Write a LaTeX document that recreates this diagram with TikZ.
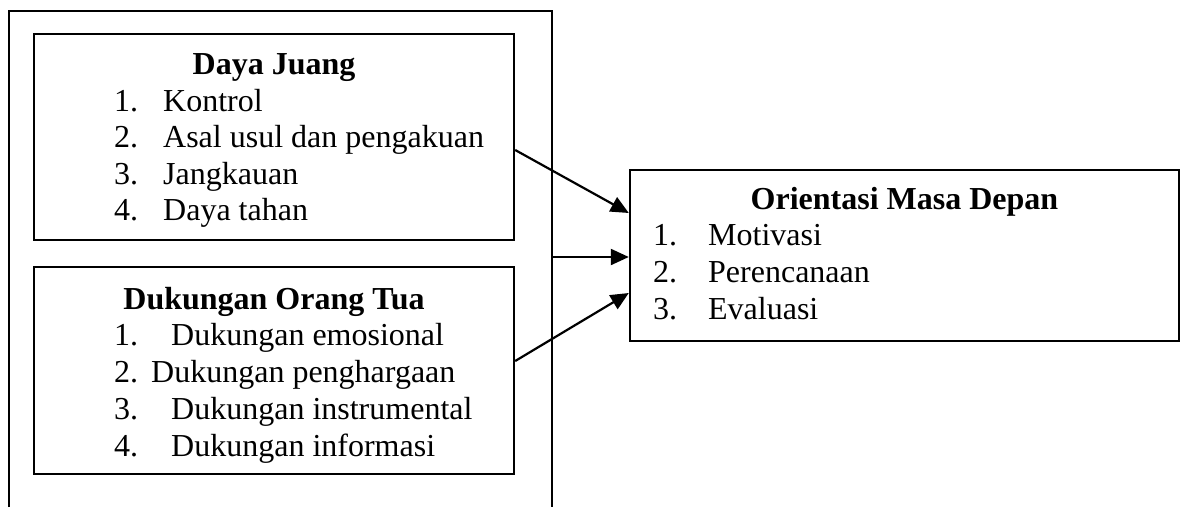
\documentclass[tikz,border=0pt]{standalone}
\usepackage{fontspec}
\setmainfont{Liberation Serif}
\usepackage{tikz}
\usetikzlibrary{arrows.meta}

\begin{document}
\begin{tikzpicture}[x=1pt, y=-1pt, line width=2.4pt,
    font=\fontsize{32}{37}\selectfont,
    box/.style = {draw, rectangle, inner sep=0pt},
    head/.style = {anchor=base, inner sep=0pt, font=\fontsize{32}{37}\selectfont\bfseries},
    item/.style = {anchor=base west, inner sep=0pt},
    arr/.style = {-{Triangle[length=18pt, width=16pt]}, line width=2.2pt}]
                \useasboundingbox (0,0) rectangle (1184,507);
                \draw (9,507) -- (9,11) -- (552,11) -- (552,507);
                \coordinate (frame) at (552,257);
                \node[box, minimum width=480pt, minimum height=206pt] (dj) at (274,137) {};
                \node[box, minimum width=480pt, minimum height=207pt] (dot) at (274,370.5) {};
                \node[box, minimum width=549pt, minimum height=171pt] (omd) at (904.5,255.5) {};
                \node[head] (djhead) at (274,74) {Daya Juang};
                \node[item] (dj1) at (113,111) {\makebox[49pt][l]{1.}Kontrol};
                \node[item] (dj2) at (113,147.5) {\makebox[49pt][l]{2.}Asal usul dan pengakuan};
                \node[item] (dj3) at (113,184) {\makebox[49pt][l]{3.}Jangkauan};
                \node[item] (dj4) at (113,220.5) {\makebox[49pt][l]{4.}Daya tahan};
                \node[head] (dothead) at (274,309) {Dukungan Orang Tua};
                \node[item] (dot1) at (113,345) {\makebox[57pt][l]{1.}Dukungan emosional};
                \node[item] (dot2) at (113,382) {\makebox[37pt][l]{2.}Dukungan penghargaan};
                \node[item] (dot3) at (113,419) {\makebox[57pt][l]{3.}Dukungan instrumental};
                \node[item] (dot4) at (113,456) {\makebox[57pt][l]{4.}Dukungan informasi};
                \node[head] (omdhead) at (904.5,209) {Orientasi Masa Depan};
                \node[item] (omd1) at (652,245) {\makebox[55pt][l]{1.}Motivasi};
                \node[item] (omd2) at (652,282) {\makebox[55pt][l]{2.}Perencanaan};
                \node[item] (omd3) at (652,319) {\makebox[55pt][l]{3.}Evaluasi};
                \path[arr] ([yshift=-13pt]dj.east) edge ([yshift=42.5pt]omd.west);
                \path[arr] (frame) edge (omd.west |- frame);
                \path[arr] ([yshift=9.5pt]dot.east) edge ([yshift=-37.5pt]omd.west);
            \end{tikzpicture}
\end{document}
